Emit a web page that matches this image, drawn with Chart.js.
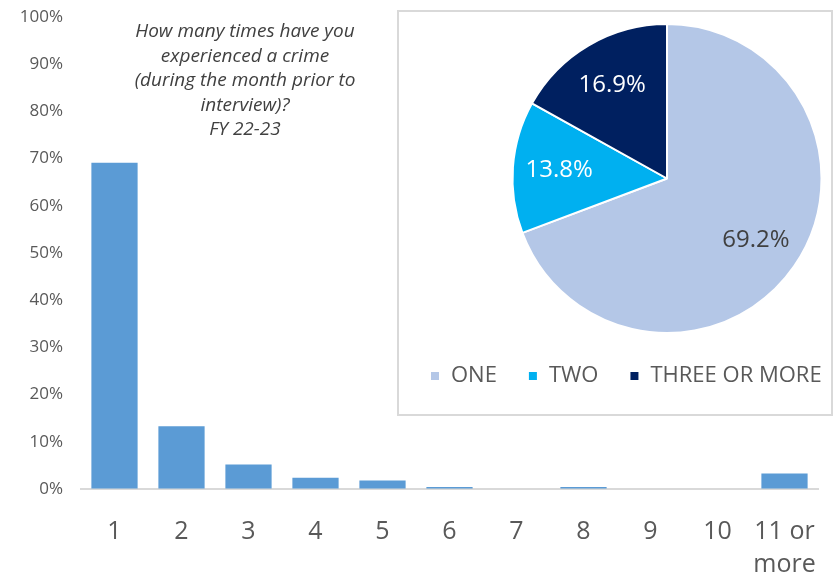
<!DOCTYPE html>
<html>
<head>
<meta charset="utf-8">
<title>Crime experience frequency FY 22-23</title>
<script src="https://cdn.jsdelivr.net/npm/chart.js@4.4.0/dist/chart.umd.min.js"></script>
<style>
  html, body { margin: 0; padding: 0; background: #fff; overflow: hidden; }
  #wrap { position: relative; width: 833px; height: 574px; }
  #barCanvas { position: absolute; left: 0; top: 0; }
  #question {
    position: absolute; left: 95px; top: 18px; width: 300px;
    text-align: center; font-family: "Open Sans"; font-style: italic;
    font-size: 19px; line-height: 24.5px; color: #404040;
  }
  #pieBox {
    position: absolute; left: 397px; top: 10px; width: 436px; height: 406px;
    box-sizing: border-box; border: 2px solid #d9d9d9; background: #fff; overflow: hidden;
  }
  #pieCanvas { position: absolute; left: 0; top: 0; }
</style>
</head>
<body>
<div id="wrap">
  <canvas id="barCanvas" width="833" height="574"></canvas>
  <div id="question">How many times have you<br>experienced a crime<br>(during the month prior to<br>interview)?<br>FY 22-23</div>
  <div id="pieBox"><canvas id="pieCanvas" width="536" height="402"></canvas></div>
</div>
<script>
// times experienced a crime, share of victims (%)
const timesLabels = ['1', '2', '3', '4', '5', '6', '7', '8', '9', '10', ['11 or', 'more']];
const timesShares = [69.1, 13.3, 5.2, 2.4, 1.8, 0.4, 0, 0.4, 0, 0, 3.3];

// grouped split shown in the pie
const groupLabels = ['ONE', 'TWO', 'THREE OR MORE'];
const groupShares = [69.2, 13.8, 16.9];
const groupColors = ['#b4c7e7', '#00b0f0', '#002060'];
const groupTextColors = ['#404040', '#ffffff', '#ffffff'];

const greyText = '#595959';

new Chart(document.getElementById('barCanvas'), {
    type: 'bar',
    data: {
        labels: timesLabels,
        datasets: [{
            data: timesShares,
            backgroundColor: '#5b9bd5',
            barPercentage: 0.69,
            categoryPercentage: 1
        }]
    },
    options: {
        responsive: false,
        animation: false,
        layout: { padding: { top: 17, right: 15, left: 0, bottom: 0 } },
        plugins: {
            legend: { display: false },
            tooltip: { enabled: false }
        },
        scales: {
            x: {
                grid: { drawOnChartArea: false, drawTicks: false, color: 'transparent' },
                border: { color: '#d9d9d9', width: 2 },
                ticks: {
                    color: greyText,
                    font: { family: 'Open Sans', size: 25, lineHeight: 1.32 },
                    padding: 26,
                    maxRotation: 0,
                    autoSkip: false
                },
                // fixed axis box, edges handled by layout padding
                afterFit(scale) {
                    scale.height = 85;
                    scale.paddingLeft = 0;
                    scale.paddingRight = 0;
                }
            },
            y: {
                min: 0,
                max: 100,
                grid: { drawOnChartArea: false, drawTicks: false, color: 'transparent' },
                border: { display: false },
                ticks: {
                    stepSize: 10,
                    color: greyText,
                    font: { family: 'Open Sans', size: 17 },
                    padding: 18,
                    callback: v => v + '%'
                },
                afterFit(scale) {
                    scale.width = 81;
                    scale.paddingTop = 0;
                    scale.paddingBottom = 0;
                }
            }
        }
    }
});

// percentage text inside each slice
const sliceLabels = {
    id: 'sliceLabels',
    afterDatasetsDraw(chart) {
        const ctx = chart.ctx;
        chart.getDatasetMeta(0).data.forEach((arc, i) => {
            const p = arc.getProps(['x', 'y', 'startAngle', 'endAngle', 'outerRadius'], true);
            const mid = (p.startAngle + p.endAngle) / 2;
            const r = p.outerRadius * 0.7;
            ctx.save();
            ctx.font = '24px "Open Sans"';
            ctx.fillStyle = groupTextColors[i];
            ctx.textAlign = 'center';
            ctx.textBaseline = 'middle';
            ctx.fillText(groupShares[i].toFixed(1) + '%', p.x + Math.cos(mid) * r, p.y + Math.sin(mid) * r);
            ctx.restore();
        });
    }
};

new Chart(document.getElementById('pieCanvas'), {
    type: 'pie',
    data: {
        labels: groupLabels,
        datasets: [{
            data: groupShares,
            backgroundColor: groupColors,
            borderColor: '#ffffff',
            borderWidth: 2
        }]
    },
    options: {
        responsive: false,
        animation: false,
        layout: { padding: { top: 11, bottom: 17, left: 0, right: 0 } },
        plugins: {
            legend: {
                position: 'bottom',
                align: 'start',
                labels: {
                    boxWidth: 10,
                    boxHeight: 10,
                    padding: 31,
                    color: greyText,
                    font: { family: 'Open Sans', size: 22 }
                }
            },
            tooltip: { enabled: false }
        }
    },
    plugins: [sliceLabels]
});
</script>
</body>
</html>
